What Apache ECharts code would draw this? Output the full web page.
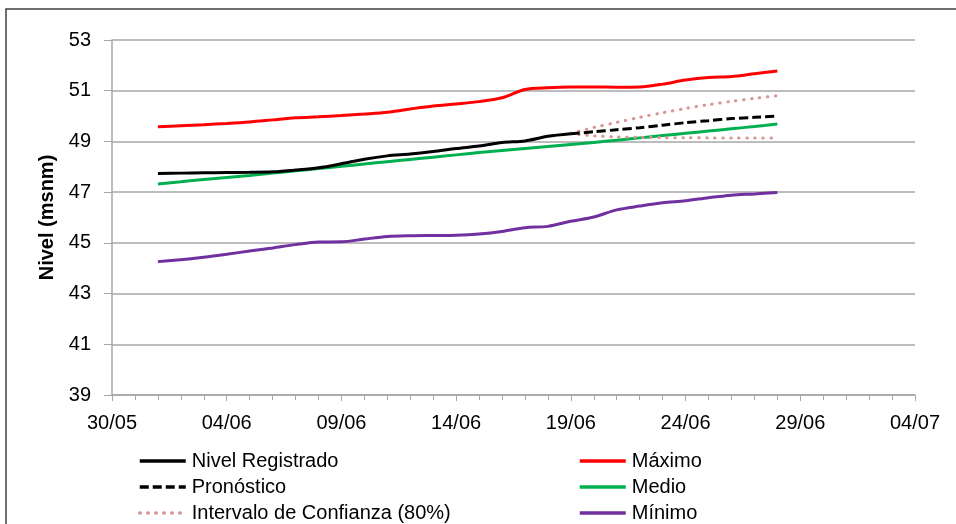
<!DOCTYPE html>
<html><head><meta charset="utf-8">
<script src="https://cdn.jsdelivr.net/npm/echarts@6/dist/echarts.min.js"></script>
<style>html,body{margin:0;padding:0;background:#fff}#c{width:956px;height:524px}</style>
</head><body><div id="c"></div>
<script>
// x positions: day number counted from 30/05
var xTickLabels = ['30/05','04/06','09/06','14/06','19/06','24/06','29/06','04/07'];
var days = [2,3,4,5,6,7,8,9,10,11,12,13,14,15,16,17,18,19,20,21,22,23,24,25,26,27,28,29];
var obsDays = [2,3,4,5,6,7,8,9,10,11,12,13,14,15,16,17,18,19,20];
var fcDays = [20,21,22,23,24,25,26,27,28,29];
var nivelRegistrado = [47.74,47.75,47.76,47.77,47.78,47.80,47.87,47.96,48.12,48.30,48.43,48.50,48.60,48.72,48.82,48.96,49.02,49.20,49.30];
var pronostico = [49.30,49.38,49.46,49.54,49.64,49.74,49.82,49.90,49.95,50.00];
var icSuperior = [49.32,49.55,49.75,49.95,50.13,50.30,50.45,50.58,50.70,50.80];
var icInferior = [49.30,49.22,49.18,49.16,49.15,49.15,49.14,49.14,49.14,49.14];
var maximo = [49.58,49.62,49.66,49.71,49.77,49.85,49.93,49.97,50.02,50.08,50.15,50.28,50.40,50.48,50.57,50.72,51.05,51.12,51.15,51.15,51.14,51.15,51.26,51.42,51.52,51.56,51.67,51.78];
var medio = [47.32,47.41,47.50,47.58,47.66,47.75,47.84,47.93,48.02,48.11,48.20,48.29,48.38,48.47,48.56,48.64,48.72,48.80,48.88,48.96,49.05,49.14,49.23,49.32,49.41,49.50,49.59,49.69];
var minimo = [44.26,44.33,44.43,44.55,44.68,44.80,44.93,45.03,45.04,45.15,45.25,45.28,45.29,45.30,45.35,45.45,45.60,45.65,45.85,46.02,46.30,46.45,46.58,46.66,46.78,46.88,46.93,46.99];
var legendLeft = ['Nivel Registrado','Pronóstico','Intervalo de Confianza (80%)'];
var legendRight = ['Máximo','Medio','Mínimo'];

function pairs(xs, ys){ return xs.map(function(x,i){return [x, ys[i]];}); }
var FONT = 'Liberation Sans, Arial, sans-serif';
function line(name, xs, ys, color, type, cap){
  return {name:name, type:'line', data:pairs(xs,ys), smooth:0.3, symbol:'none', showSymbol:false,
    lineStyle:{color:color, width:3, type:type||'solid', cap:cap||'butt'}, itemStyle:{color:color},
    emphasis:{disabled:true}, animation:false};
}
function legendItem(name, left, top){
  return {left:left, top:top, padding:0, itemWidth:46, itemHeight:14, itemGap:0,
    itemStyle:{opacity:0}, lineStyle:{width:3.5}, selectedMode:false,
    textStyle:{fontFamily:FONT, fontSize:20, color:'#000', padding:[0,0,0,1]},
    data:[name]};
}
var legends = [];
legendLeft.forEach(function(n,i){ legends.push(legendItem(n, 138, 451 + i*26)); });
legendRight.forEach(function(n,i){ legends.push(legendItem(n, 578, 451 + i*26)); });

var chart = echarts.init(document.getElementById('c'), null, {renderer:'canvas'});
chart.setOption({
  backgroundColor:'#fff',
  animation:false,
  grid:{left:112, right:41, top:40, bottom:129},
  xAxis:{type:'value', min:0, max:35, interval:5,
    axisLine:{show:true, lineStyle:{color:'#a6a6a6', width:1.5}},
    axisTick:{show:true, length:6, lineStyle:{color:'#a6a6a6'}},
    minorTick:{show:true, splitNumber:5, length:5, lineStyle:{color:'#a6a6a6'}},
    splitLine:{show:false},
    axisLabel:{color:'#000', fontFamily:FONT, fontSize:20, margin:18,
      formatter:function(v){return xTickLabels[Math.round(v/5)];}}
  },
  yAxis:{type:'value', min:39, max:53, interval:2,
    name:'Nivel (msnm)', nameLocation:'middle', nameGap:54,
    nameTextStyle:{color:'#000', fontFamily:FONT, fontSize:20, fontWeight:'bold'},
    axisLine:{show:true, lineStyle:{color:'#a6a6a6', width:1.5}},
    axisTick:{show:true, length:8, lineStyle:{color:'#a6a6a6'}},
    splitLine:{show:true, lineStyle:{color:'#a6a6a6', width:1.5}},
    axisLabel:{color:'#000', fontFamily:FONT, fontSize:20, margin:21}
  },
  legend:legends,
  graphic:[{type:'rect', shape:{x:6, y:9, width:1000, height:1000}, style:{fill:'none', stroke:'#404040', lineWidth:1.5}, silent:true}],
  series:[
    line('Máximo', days, maximo, '#ff0000'),
    line('Medio', days, medio, '#00b050'),
    line('Mínimo', days, minimo, '#7030a0'),
    line('Intervalo de Confianza (80%)', fcDays, icSuperior, '#d99594', [0.5,7.5], 'round'),
    line('Intervalo de Confianza (80%)', fcDays, icInferior, '#d99594', [0.5,7.5], 'round'),
    line('Nivel Registrado', obsDays, nivelRegistrado, '#000000'),
    line('Pronóstico', fcDays, pronostico, '#000000', [9,4])
  ]
});
</script></body></html>
